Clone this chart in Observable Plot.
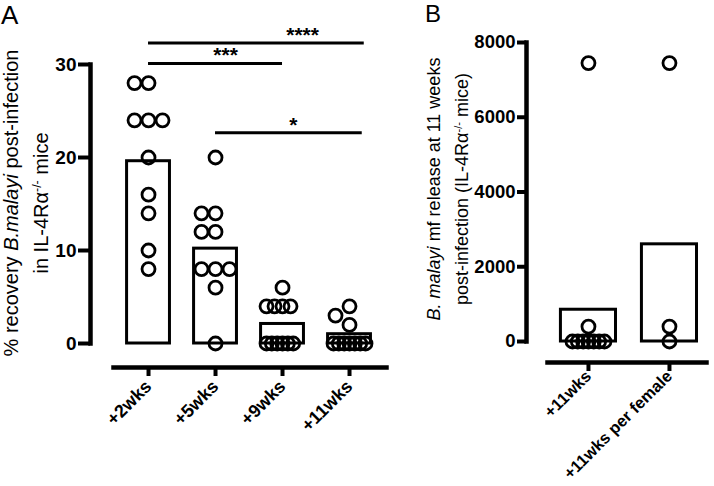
<!DOCTYPE html>
<html><head><meta charset="utf-8">
<script src="https://cdn.jsdelivr.net/npm/d3@7"></script>
<script src="https://cdn.jsdelivr.net/npm/@observablehq/plot@0.6"></script>
<style>
body{margin:0;background:#fff;}
#fig{position:relative;width:714px;height:486px;overflow:hidden;background:#fff;font-family:"Liberation Sans",Arial,Helvetica,sans-serif;color:#000;}
.panel{position:absolute;top:0;}
.letter{position:absolute;font-weight:normal;line-height:1;white-space:nowrap;}
.ytitle{position:absolute;text-align:center;white-space:nowrap;transform:rotate(-90deg);line-height:1;}
.ytitle sup{font-size:0.62em;line-height:0;vertical-align:0.55em;}
</style></head><body><div id="fig"></div>
<script>
// ---------- Panel A data ----------
const catsA = ["+2wks", "+5wks", "+9wks", "+11wks"];
const wk2 = [28, 28, 24, 24, 24, 20, 16, 14, 10, 8];
const wk5 = [20, 14, 14, 12, 12, 8, 8, 8, 6, 0];
const wk9 = [6, 4, 4, 4, 4, 0, 0, 0, 0, 0, 0];
const wk11 = [4, 3, 2, 0, 0, 0, 0, 0, 0, 0];
const meansA = [19.6, 10.2, 2.1, 1.0];
const ticksA = [0, 10, 20, 30];
const sigFrom = [0, 0, 1];
const sigTo = [3.22, 2, 3.19];
const sigY = [32.3, 30.1, 22.65];
const sigLabelX = [2.3, 1.15, 2.16];
const sigLabel = ["****", "***", "*"];

// ---------- Panel B data ----------
const catsB = ["+11wks", "+11wks per female"];
const mf11 = [7450, 400, 0, 0, 0, 0, 0, 0, 0];
const mfFemale = [7450, 400, 0];
const meansB = [850, 2600];
const ticksB = [0, 2000, 4000, 6000, 8000];

// ---------- layout ----------
const FONT = '"Liberation Sans", Arial, Helvetica, sans-serif';
const H = 486;
const A = {width: 400, ml: 90, mr: 0, mt: 64, mb: 143, xdom: [-0.866, 3.761], ymax: 30};
const B = {width: 314, ml: 126, mr: 0, mt: 42, mb: 145, xdom: [-0.765, 1.556], ymax: 8000};
for (const P of [A, B]) {
  P.kx = (P.width - P.ml - P.mr) / (P.xdom[1] - P.xdom[0]);
  P.ky = (H - P.mt - P.mb) / P.ymax;
}

// simple beeswarm: rows of equal values spread horizontally, compressed when wide
function swarm(values, ky, step = 14, maxHalf = 16, minDist = 13) {
  const rows = d3.groups(values.map((v, i) => ({v, i})), d => d.v)
    .sort((a, b) => d3.descending(a[1].length, b[1].length) || d3.descending(a[0], b[0]));
  const placed = [];
  const off = new Array(values.length);
  for (const [v, row] of rows) {
    const slots = row.map((_, j) => j === 0 ? 0 : (j % 2 ? -Math.ceil(j / 2) : j / 2));
    const maxSlot = d3.max(slots, Math.abs) || 1;
    const st = Math.min(step, maxHalf / maxSlot);
    const y = v * ky;
    for (const c of [0, -1, 1, -2, 2, -3, 3]) {
      const xs = slots.map(s => c * step + s * st);
      const ok = xs.every(x => placed.every(p => Math.hypot(p.x - x, p.y - y) >= minDist));
      if (ok || c === 3) {
        row.forEach((d, j) => { off[d.i] = xs[j]; placed.push({x: xs[j], y}); });
        break;
      }
    }
  }
  return off;
}

function points(groups, P) {
  const out = [];
  groups.forEach((vals, gi) => {
    const off = swarm(vals, P.ky);
    vals.forEach((v, j) => out.push({x: gi + off[j] / P.kx, v}));
  });
  return out;
}

const ptsA = points([wk2, wk5, wk9, wk11], A);
const barsA = meansA.map((m, i) => ({i, mean: m}));
const sig = sigLabel.map((label, k) => ({from: sigFrom[k], to: sigTo[k], y: sigY[k], lx: sigLabelX[k], label}));

const ptsB = points([mf11, mfFemale], B);
const barsB = meansB.map((m, i) => ({i, mean: m}));

const baseStyle = {fontFamily: FONT, fontSize: "19px", fontWeight: "bold", background: "transparent", color: "black", overflow: "visible"};

const plotA = Plot.plot({
  width: A.width, height: H,
  marginLeft: A.ml, marginRight: A.mr, marginTop: A.mt, marginBottom: A.mb,
  style: baseStyle,
  x: {domain: A.xdom, axis: null},
  y: {domain: [0, A.ymax], axis: null},
  marks: [
    Plot.rect(barsA, {x1: d => d.i - 0.32, x2: d => d.i + 0.32, y1: 0, y2: "mean", fill: "white", stroke: "black", strokeWidth: 3}),
    Plot.dot(ptsA, {x: "x", y: "v", r: 6.5, stroke: "black", strokeWidth: 2.8, fill: "none"}),
    Plot.frame({anchor: "left", strokeWidth: 4.5}),
    Plot.axisY({ticks: ticksA, tickSize: 12, tickPadding: 2, strokeWidth: 4, label: null}),
    Plot.frame({anchor: "bottom", dy: 24, insetLeft: 23, insetRight: 14, strokeWidth: 4.5}),
    Plot.axisX({ticks: [0, 1, 2, 3], tickFormat: i => catsA[i], tickRotate: -45, tickSize: 9, tickPadding: 7, dy: 24, strokeWidth: 4, fontSize: 18, label: null}),
    Plot.ruleY(sig, {y: "y", x1: "from", x2: "to", strokeWidth: 3}),
    Plot.text(sig, {x: "lx", y: "y", text: "label", dy: -8, fontSize: 21})
  ]
});

const plotB = Plot.plot({
  width: B.width, height: H,
  marginLeft: B.ml, marginRight: B.mr, marginTop: B.mt, marginBottom: B.mb,
  style: baseStyle,
  x: {domain: B.xdom, axis: null},
  y: {domain: [0, B.ymax], axis: null},
  marks: [
    Plot.rect(barsB, {x1: d => d.i - 0.34, x2: d => d.i + 0.34, y1: 0, y2: "mean", fill: "white", stroke: "black", strokeWidth: 3}),
    Plot.dot(ptsB, {x: "x", y: "v", r: 6.5, stroke: "black", strokeWidth: 2.8, fill: "none"}),
    Plot.frame({anchor: "left", strokeWidth: 4.5}),
    Plot.axisY({ticks: ticksB, tickFormat: d3.format("d"), tickSize: 9, tickPadding: 2, strokeWidth: 4, fontSize: 18.5, label: null}),
    Plot.frame({anchor: "bottom", dy: 21, insetLeft: 21, insetRight: 8, strokeWidth: 4.5}),
    Plot.axisX({ticks: [0, 1], tickFormat: i => catsB[i], tickRotate: -45, tickSize: 9, tickPadding: 2, dy: 21, strokeWidth: 4, fontSize: 16.5, label: null})
  ]
});

const fig = document.getElementById("fig");
function place(el, left) { el.classList.add("panel"); el.style.left = left + "px"; fig.appendChild(el); }
place(plotA, 0);
place(plotB, 400);

function letter(txt, left, top, size) {
  const d = document.createElement("div");
  d.className = "letter"; d.textContent = txt;
  Object.assign(d.style, {left: left + "px", top: top + "px", fontSize: size + "px"});
  fig.appendChild(d);
}
letter("A", 1, 1.5, 26);
letter("B", 425, 2, 24);

// one rotated line of axis title; baseline = screen x of the (rotated) baseline
function ytitleLine(html, baseline, cy, size, w) {
  const d = document.createElement("div");
  d.className = "ytitle"; d.innerHTML = html;
  const cx = baseline - 0.3465 * size;
  Object.assign(d.style, {left: (cx - w / 2) + "px", top: (cy - size / 2) + "px", width: w + "px", height: size + "px", fontSize: size + "px"});
  fig.appendChild(d);
}
ytitleLine('% recovery <i>B.malayi</i> post-infection', 18, 202.5, 20, 380);
ytitleLine('in IL-4R&alpha;<sup>-/-</sup> mice', 48, 202.5, 20, 380);
ytitleLine('<i>B. malayi</i> mf release at 11 weeks', 440, 188.5, 18, 330);
ytitleLine('post-infection (IL-4R&alpha;<sup>-/-</sup> mice)', 468, 188.5, 18, 330);
</script></body></html>
